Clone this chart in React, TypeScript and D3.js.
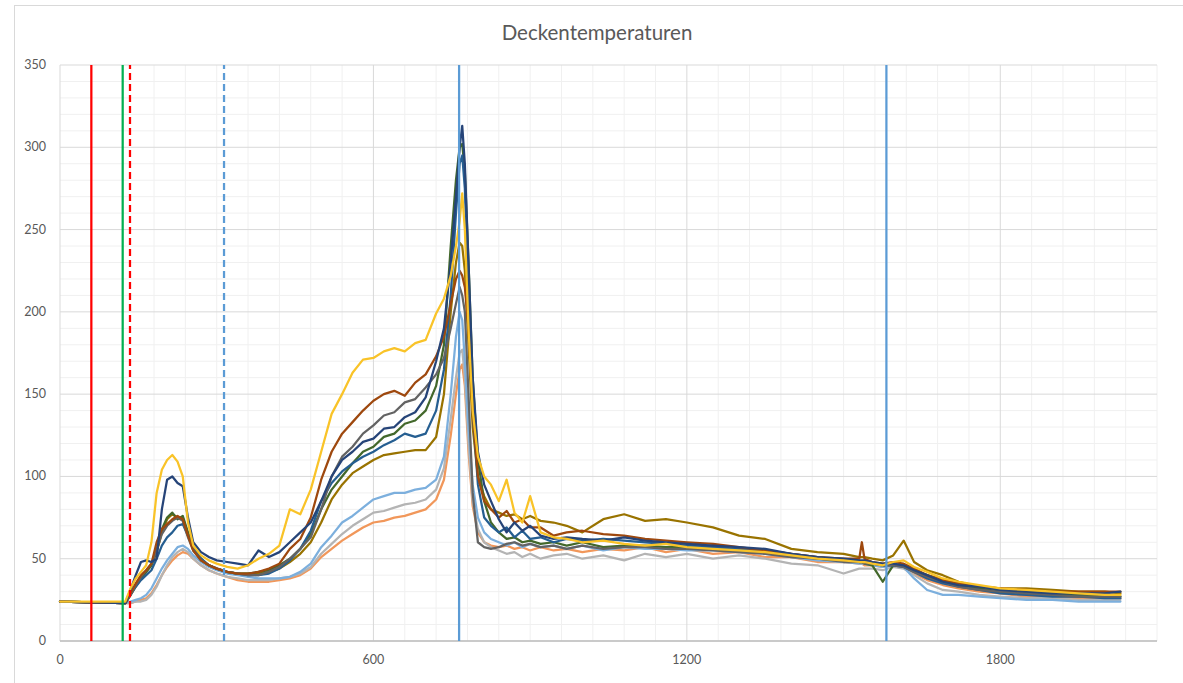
import React from 'react';
import * as d3 from 'd3';

const W = 1183;
const H = 683;

const title = 'Deckentemperaturen';

// time axis (s)
const T = [
  0, 125, 135, 145, 155, 165, 175, 185, 195, 205,
  215, 225, 235, 245, 255, 270, 285, 300, 320, 340,
  360, 380, 400, 420, 440, 460, 480, 500, 520, 540,
  560, 580, 600, 620, 640, 660, 680, 700, 720, 735,
  748, 758, 765, 770, 775, 782, 790, 800, 812, 825,
  840, 855, 870, 885, 900, 920, 945, 970, 1000, 1040,
  1080, 1120, 1160, 1200, 1250, 1300, 1350, 1400, 1450, 1500,
  1530, 1535, 1540, 1555, 1575, 1595, 1615, 1635, 1660, 1690,
  1720, 1760, 1800, 1850, 1900, 1950, 2000, 2030,
];

const orange = [
  24, 23, 23, 24, 25, 26, 29, 34, 40, 45,
  49, 52, 54, 53, 50, 46, 43, 41, 39, 37,
  36, 36, 36, 37, 38, 40, 44, 51, 56, 61,
  65, 69, 72, 73, 75, 76, 78, 80, 86, 98,
  125, 150, 165, 168, 155, 115, 82, 66, 60, 58,
  57, 58, 56, 57, 55, 57, 55, 56, 54, 56,
  55, 57, 54, 56, 53, 54, 51, 51, 48, 48,
  47, 47, 46, 46, 45, 46, 45, 41, 37, 34,
  32, 30, 29, 27, 27, 26, 26, 26,
];

const lightgray = [
  24, 23, 23, 24, 24, 25, 28, 33, 40, 46,
  51, 54, 56, 54, 50, 46, 43, 41, 39, 38,
  37, 37, 37, 38, 39, 41, 45, 53, 59, 65,
  70, 74, 78, 79, 81, 83, 84, 86, 92, 105,
  135, 160, 175, 177, 160, 120, 85, 68, 60, 57,
  55, 53, 54, 51, 53, 50, 52, 53, 50, 52,
  49, 53, 51, 53, 50, 52, 50, 47, 46, 41,
  44, 44, 44, 44, 43, 45, 44, 40, 35, 31,
  30, 28, 27, 26, 26, 25, 25, 25,
];

const lightblue = [
  24, 23, 24, 25, 26, 28, 32, 38, 44, 49,
  53, 57, 58, 56, 52, 48, 45, 43, 41, 40,
  39, 38, 38, 38, 39, 42, 47, 57, 64, 72,
  76, 81, 86, 88, 90, 90, 92, 93, 98, 112,
  150, 185, 200, 195, 170, 130, 95, 75, 66, 62,
  60, 58, 60, 57, 59, 57, 58, 56, 58, 55,
  57, 56, 56, 55, 55, 54, 53, 51, 49, 48,
  47, 47, 47, 46, 45, 46, 45, 38, 31, 28,
  28, 27, 26, 25, 25, 24, 24, 24,
];

const olive = [
  24, 23, 28, 33, 38, 42, 46, 54, 66, 74,
  77, 75, 75, 65, 56, 49, 46, 44, 42, 41,
  41, 41, 42, 44, 48, 53, 60, 72, 86, 95,
  102, 106, 110, 113, 114, 115, 116, 116, 124, 150,
  200, 230, 242, 240, 225, 180, 130, 100, 88, 80,
  78, 76, 77, 74, 76, 73, 72, 70, 66, 74,
  77, 73, 74, 72, 69, 64, 62, 56, 54, 53,
  51, 51, 51, 50, 49, 52, 61, 48, 43, 40,
  36, 33, 32, 32, 31, 30, 30, 29,
];

const green = [
  24, 23, 28, 34, 38, 42, 46, 55, 68, 75,
  78, 74, 76, 66, 57, 50, 46, 44, 42, 41,
  41, 42, 43, 46, 50, 56, 65, 80, 92, 100,
  108, 115, 118, 124, 126, 132, 134, 140, 155, 180,
  240, 280, 300, 302, 285, 230, 160, 110, 85, 72,
  66, 62, 63, 60, 61, 59, 60, 58, 60, 57,
  58, 58, 57, 57, 56, 55, 54, 52, 50, 49,
  48, 48, 47, 46, 36, 46, 46, 43, 40, 37,
  34, 32, 30, 29, 28, 28, 27, 27,
];

const blue = [
  24, 23, 28, 33, 37, 40, 43, 50, 58, 63,
  66, 70, 71, 64, 56, 50, 46, 44, 42, 41,
  40, 40, 41, 44, 49, 56, 67, 85, 96, 103,
  108, 112, 115, 119, 122, 126, 124, 126, 140, 165,
  210, 260, 290, 295, 275, 210, 140, 95, 75, 70,
  66, 69, 63, 67, 62, 63, 60, 62, 61, 62,
  61, 60, 59, 58, 57, 56, 55, 53, 51, 49,
  48, 48, 48, 47, 46, 46, 45, 42, 38, 35,
  33, 31, 29, 28, 27, 27, 26, 26,
];

const gray = [
  24, 23, 28, 34, 39, 43, 47, 55, 65, 70,
  73, 75, 73, 63, 55, 49, 46, 44, 42, 41,
  40, 40, 42, 45, 50, 56, 63, 80, 100, 112,
  118, 126, 131, 137, 139, 145, 147, 154, 162, 172,
  190, 205, 215, 210, 200, 150, 90, 60, 57, 56,
  57, 59, 60, 58, 59, 57, 58, 56, 58, 56,
  57, 57, 56, 56, 55, 54, 53, 51, 50, 48,
  48, 48, 47, 47, 46, 46, 45, 42, 39, 36,
  33, 31, 30, 29, 28, 27, 27, 27,
];

const brown = [
  24, 23, 29, 35, 40, 43, 47, 60, 68, 71,
  74, 76, 74, 64, 55, 49, 46, 44, 42, 41,
  41, 42, 44, 47, 56, 62, 75, 98, 115, 126,
  133, 140, 146, 150, 152, 149, 157, 162, 173, 185,
  205, 220, 225, 222, 215, 190, 140, 100, 85, 80,
  75, 79, 72, 74, 69, 69, 64, 66, 67, 65,
  64, 62, 61, 60, 59, 57, 55, 53, 51, 50,
  50, 60, 50, 48, 47, 48, 47, 44, 40, 37,
  35, 33, 32, 31, 30, 30, 30, 30,
];

const navy = [
  24, 23, 31, 40, 48, 49, 48, 50, 80, 98,
  100, 96, 94, 75, 60, 54, 51, 49, 48, 47,
  46, 55, 51, 54, 60, 66, 72, 85, 100, 110,
  115, 121, 123, 129, 130, 136, 139, 148, 170, 190,
  230, 270, 300, 313, 290, 230, 160, 115, 95, 85,
  74, 66, 72, 67, 70, 64, 62, 63, 62, 61,
  63, 61, 60, 59, 58, 57, 56, 53, 51, 50,
  49, 49, 49, 48, 47, 47, 46, 43, 40, 36,
  34, 33, 31, 30, 29, 29, 29, 30,
];

const yellow = [
  24, 24, 32, 38, 42, 46, 60, 90, 104, 110,
  113, 109, 100, 72, 58, 52, 49, 47, 45, 44,
  46, 50, 53, 58, 80, 77, 92, 115, 138, 150,
  163, 171, 172, 176, 178, 176, 181, 183, 199, 208,
  222, 240, 255, 272, 250, 190, 140, 112, 100, 95,
  85, 98, 78, 72, 88, 66, 63, 62, 60, 61,
  59, 58, 59, 57, 56, 55, 54, 52, 50, 49,
  48, 48, 48, 47, 46, 48, 49, 45, 42, 38,
  36, 34, 32, 31, 30, 29, 28, 28,
];

const seriesValues = [orange, lightgray, lightblue, olive, green, blue, gray, brown, navy, yellow];
const seriesColors = ['#F1975A', '#B4B4B4', '#7CAFDD', '#997300', '#43682B', '#255E91', '#636363', '#9E480E', '#264478', '#F9C328'];

// vertical marker lines (time in s)
const markerTimes = [60, 120, 134, 314, 764, 1582];
const markerColors = ['#FF0000', '#00B050', '#FF0000', '#5B9BD5', '#5B9BD5', '#5B9BD5'];
const markerDashed = [false, false, true, true, false, false];

const xTicks = [0, 600, 1200, 1800];
const yTicks = [0, 50, 100, 150, 200, 250, 300, 350];

export default function App() {
  const x = d3.scaleLinear().domain([0, 2100]).range([60, 1157]);
  const y = d3.scaleLinear().domain([0, 350]).range([641, 65]);

  const minorX = d3.range(0, 2101, 60).filter((v) => v % 600 !== 0);
  const majorX = d3.range(0, 2101, 600);
  const minorY = d3.range(0, 351, 10).filter((v) => v % 50 !== 0);

  const line = d3
    .line<number>()
    .x((_, i) => x(T[i]))
    .y((d) => y(d));

  const font = 'Lato, "Open Sans", sans-serif';

  return (
    <svg width={W} height={H} style={{ position: 'absolute', left: 0, top: 0, background: '#fff' }}>
      <rect x={0} y={0} width={W} height={H} fill="#fff" />
      <rect x={14.5} y={5.5} width={1200} height={700} fill="#fff" stroke="#D9D9D9" strokeWidth={1} />
      <text x={597} y={40} textAnchor="middle" fontFamily={font} fontSize={20.5} fill="#595959">
        {title}
      </text>
      {/* minor gridlines */}
      {minorY.map((v) => (
        <line key={'my' + v} x1={60} x2={1157} y1={y(v)} y2={y(v)} stroke="#F0F0F0" strokeWidth={1} />
      ))}
      {minorX.map((v) => (
        <line key={'mx' + v} x1={x(v)} x2={x(v)} y1={y(0)} y2={y(350)} stroke="#F0F0F0" strokeWidth={1} />
      ))}
      {/* major gridlines */}
      {yTicks.map((v) => (
        <line key={'gy' + v} x1={60} x2={1157} y1={y(v)} y2={y(v)} stroke="#D9D9D9" strokeWidth={1} />
      ))}
      {majorX.map((v) => (
        <line key={'gx' + v} x1={x(v)} x2={x(v)} y1={y(0)} y2={y(350)} stroke="#D9D9D9" strokeWidth={1} />
      ))}
      <line x1={60} x2={1157} y1={y(0)} y2={y(0)} stroke="#BFBFBF" strokeWidth={1.5} />
      {/* series */}
      {seriesValues.map((vals, i) => (
        <path
          key={'s' + i}
          d={line(vals) || ''}
          fill="none"
          stroke={seriesColors[i]}
          strokeWidth={2.25}
          strokeLinejoin="round"
          strokeLinecap="round"
        />
      ))}
      {/* markers */}
      {markerTimes.map((t, i) => (
        <line
          key={'m' + i}
          x1={x(t)}
          x2={x(t)}
          y1={y(0)}
          y2={y(350)}
          stroke={markerColors[i]}
          strokeWidth={2.25}
          strokeDasharray={markerDashed[i] ? '7 4' : undefined}
        />
      ))}
      {/* tick labels */}
      {yTicks.map((v) => (
        <text key={'ty' + v} x={46} y={y(v) + 4} textAnchor="end" fontFamily={font} fontSize={12.5} fill="#595959">
          {v}
        </text>
      ))}
      {xTicks.map((v) => (
        <text key={'tx' + v} x={x(v)} y={664} textAnchor="middle" fontFamily={font} fontSize={12.5} fill="#595959">
          {v}
        </text>
      ))}
    </svg>
  );
}
